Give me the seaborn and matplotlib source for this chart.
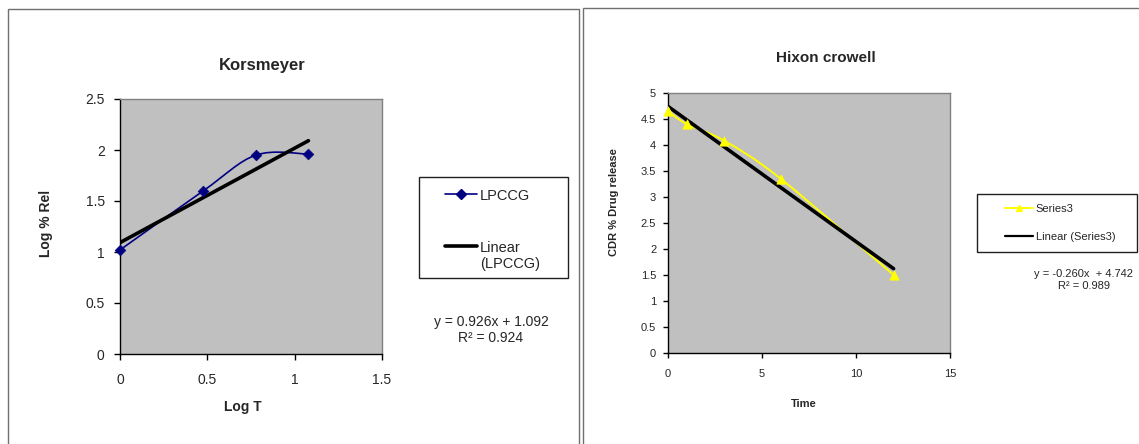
import numpy as np
import pandas as pd
import matplotlib
matplotlib.use("Agg")
import matplotlib.pyplot as plt
from matplotlib.path import Path
from matplotlib.patches import PathPatch, Rectangle
from matplotlib.lines import Line2D
from matplotlib.ticker import FuncFormatter
import seaborn as sns

# ---------------- data ----------------
k_title = "Korsmeyer"
k_x = [0.0, 0.477, 0.778, 1.079]          # Log T
k_y = [1.02, 1.60, 1.95, 1.96]            # Log % Rel
k_series = "LPCCG"
k_slope, k_intercept, k_r2 = 0.926, 1.092, 0.924
k_xticks = [0, 0.5, 1, 1.5]
k_yticks = [0, 0.5, 1, 1.5, 2, 2.5]

h_title = "Hixon crowell"
h_x = [0, 1, 3, 6, 12]                    # Time
h_y = [4.65, 4.40, 4.08, 3.35, 1.50]      # CDR % Drug release
h_series = "Series3"
h_slope, h_intercept, h_r2 = -0.260, 4.742, 0.989
h_xticks = [0, 5, 10, 15]
h_yticks = [0, 0.5, 1, 1.5, 2, 2.5, 3, 3.5, 4, 4.5, 5]

# ---------------- style ----------------
sns.set_theme(style="white")
plt.rcParams["font.family"] = ["Liberation Sans", "DejaVu Sans"]
NARROW = ["Liberation Sans Narrow", "Liberation Sans", "DejaVu Sans"]

W, H = 1139, 444
fig = plt.figure(figsize=(W / 100, H / 100), dpi=100)
fig.patch.set_facecolor("white")

PLOT_BG = "#C0C0C0"
NAVY = "#000080"
YELLOW = "#FFFF00"


def smooth_path(xs, ys):
    pts = list(zip(xs, ys))
    n = len(pts)
    verts = [pts[0]]
    codes = [Path.MOVETO]
    for i in range(n - 1):
        p0 = pts[i - 1] if i > 0 else pts[i]
        p1 = pts[i]
        p2 = pts[i + 1]
        p3 = pts[i + 2] if i + 2 < n else pts[i + 1]
        c1 = (p1[0] + (p2[0] - p0[0]) / 6, p1[1] + (p2[1] - p0[1]) / 6)
        c2 = (p2[0] - (p3[0] - p1[0]) / 6, p2[1] - (p3[1] - p1[1]) / 6)
        verts += [c1, c2, p2]
        codes += [Path.CURVE4] * 3
    return Path(verts, codes)


def style_axes(ax, tick_len, pad, fsize, family=None):
    ax.set_facecolor(PLOT_BG)
    for s in ["top", "right"]:
        ax.spines[s].set_color("#808080")
        ax.spines[s].set_linewidth(1.0)
    for s in ["left", "bottom"]:
        ax.spines[s].set_color("black")
        ax.spines[s].set_linewidth(1.0)
    ax.tick_params(axis="both", which="major", direction="out", length=tick_len,
                   width=1, color="black", pad=pad, labelsize=fsize,
                   bottom=True, left=True, top=False, right=False)
    fmt = FuncFormatter(lambda v, p: f"{v:g}")
    ax.xaxis.set_major_formatter(fmt)
    ax.yaxis.set_major_formatter(fmt)
    if family:
        for lab in ax.get_xticklabels() + ax.get_yticklabels():
            lab.set_family(family)
    ax.grid(False)


def top_align(leg):
    try:
        for col in leg._legend_handle_box.get_children():
            for hp in col.get_children():
                hp.align = "top"
    except Exception:
        pass


def fx(px):
    return px / W


def fy(py):
    return 1 - py / H


# panel borders
fig.add_artist(Rectangle((fx(8), -0.1), fx(579 - 8), fy(9) + 0.1, transform=fig.transFigure,
                         fill=False, ec="#707070", lw=1.0))
fig.add_artist(Rectangle((fx(583), -0.1), 0.8, fy(8) + 0.1, transform=fig.transFigure,
                         fill=False, ec="#707070", lw=1.0))

# ================= left chart =================
ax1 = fig.add_axes([fx(120), fy(354), fx(382 - 120), (354 - 99) / H])
kdf = pd.DataFrame({"x": k_x, "y": k_y})
ax1.add_patch(PathPatch(smooth_path(k_x, k_y), fill=False, ec=NAVY, lw=1.2, zorder=2))
kfit = pd.DataFrame({"x": [min(k_x), max(k_x)]})
kfit["y"] = k_slope * kfit["x"] + k_intercept
sns.lineplot(data=kfit, x="x", y="y", color="black", lw=2.6, ax=ax1, zorder=3)
sns.scatterplot(data=kdf, x="x", y="y", marker="D", s=30, color=NAVY, edgecolor=NAVY,
                ax=ax1, zorder=4, legend=False, clip_on=False)
ax1.set_xlim(0, 1.5)
ax1.set_ylim(0, 2.5)
ax1.set_xticks(k_xticks)
ax1.set_yticks(k_yticks)
style_axes(ax1, 4.5, 6.5, 10)
ax1.tick_params(axis="x", pad=9)
ax1.set_title(k_title, fontsize=12, fontweight="bold", x=(262 - 120) / 262,
              y=(354 - 65) / 255, va="center", pad=0)
ax1.set_xlabel("Log T", fontsize=10, fontweight="bold")
ax1.set_ylabel("Log % Rel", fontsize=10, fontweight="bold")
ax1.xaxis.set_label_coords((243 - 120) / 262, -(400 - 354) / 255)
ax1.yaxis.set_label_coords((53 - 120) / 262, (354 - 223) / 255)

fig.add_artist(Rectangle((fx(419), fy(278)), fx(568 - 419), (278 - 177) / H,
                         transform=fig.transFigure, fill=False, ec="#202020", lw=1.0))
k_handles = [Line2D([], [], color=NAVY, lw=1.2, marker="D", markersize=5),
             Line2D([], [], color="black", lw=2.6)]
leg1 = fig.legend(k_handles, [k_series, f"Linear\n({k_series})"], loc="upper left",
                  bbox_to_anchor=(fx(445), fy(189)), bbox_transform=fig.transFigure,
                  frameon=False, fontsize=10.5, borderpad=0, borderaxespad=0,
                  handlelength=2.2, handletextpad=0.2, labelspacing=2.6)
top_align(leg1)
fig.text(fx(491), fy(330), f"y = {k_slope:.3f}x + {k_intercept:.3f}\nR² = {k_r2:.3f}",
         ha="center", va="center", fontsize=10, linespacing=1.2)

# ================= right chart =================
ax2 = fig.add_axes([fx(668), fy(353), fx(950 - 668), (353 - 93) / H])
hdf = pd.DataFrame({"x": h_x, "y": h_y})
ax2.add_patch(PathPatch(smooth_path(h_x, h_y), fill=False, ec=YELLOW, lw=1.4, zorder=2))
hfit = pd.DataFrame({"x": [min(h_x), max(h_x)]})
hfit["y"] = h_slope * hfit["x"] + h_intercept
sns.lineplot(data=hfit, x="x", y="y", color="black", lw=2.6, ax=ax2, zorder=3)
sns.scatterplot(data=hdf, x="x", y="y", marker="^", s=45, color=YELLOW, edgecolor=YELLOW,
                ax=ax2, zorder=4, legend=False, clip_on=False)
ax2.set_xlim(0, 15)
ax2.set_ylim(0, 5)
ax2.set_xticks(h_xticks)
ax2.set_yticks(h_yticks)
style_axes(ax2, 3.5, 5, 8, family=NARROW)
ax2.tick_params(axis="x", pad=8)
ax2.set_title(h_title, fontsize=11, fontweight="bold", x=(826 - 668) / 282,
              y=(353 - 58) / 260, va="center", pad=0)
ax2.set_xlabel("Time", fontsize=8, fontweight="bold")
ax2.set_ylabel("CDR % Drug release", fontsize=8, fontweight="bold")
ax2.xaxis.set_label_coords((804 - 668) / 282, -(399 - 353) / 260)
ax2.yaxis.set_label_coords((619 - 668) / 282, (353 - 202) / 260)

fig.add_artist(Rectangle((fx(977), fy(252)), fx(1137 - 977), (252 - 194) / H,
                         transform=fig.transFigure, fill=False, ec="#202020", lw=1.0))
h_handles = [Line2D([], [], color=YELLOW, lw=1.4, marker="^", markersize=5),
             Line2D([], [], color="black", lw=1.6)]
leg2 = fig.legend(h_handles, [h_series, f"Linear ({h_series})"], loc="upper left",
                  bbox_to_anchor=(fx(1005), fy(204)), bbox_transform=fig.transFigure,
                  frameon=False, fontsize=8, borderpad=0, borderaxespad=0,
                  handlelength=2.5, handletextpad=0.25, labelspacing=1.6,
                  prop={"family": NARROW, "size": 8})
fig.text(fx(1084), fy(280), f"y = {h_slope:.3f}x  + {h_intercept:.3f}\nR² = {h_r2:.3f}",
         ha="center", va="center", fontsize=8, linespacing=1.25, family=NARROW)

fig.savefig("out.png", dpi=100, facecolor="white")
